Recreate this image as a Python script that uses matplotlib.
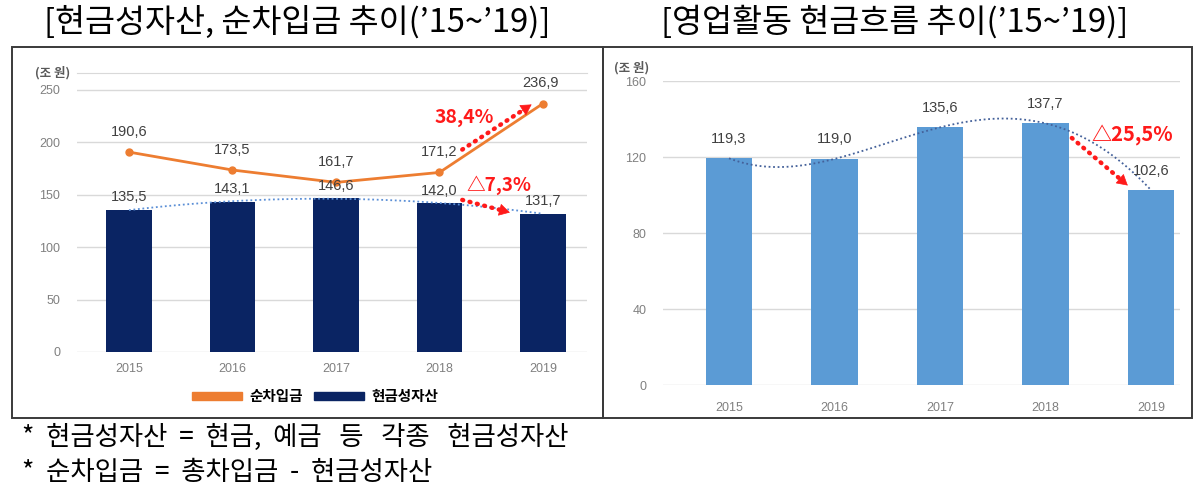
import matplotlib.pyplot as plt
import numpy as np
from matplotlib.patches import Rectangle, Patch

plt.rcParams['font.family'] = ['Noto Sans CJK KR', 'DejaVu Sans']

years = ['2015', '2016', '2017', '2018', '2019']
cash = [135.5, 143.1, 146.6, 142.0, 131.7]        # 현금성자산
net_debt = [190.6, 173.5, 161.7, 171.2, 236.9]    # 순차입금
op_cf = [119.3, 119.0, 135.6, 137.7, 102.6]       # 영업활동 현금흐름

navy = '#0a2463'
orange = '#ed7d31'
blue = '#5b9bd5'
red = '#ff1a1a'
lab = '#404040'
tick = '#808080'
grid = '#d9d9d9'
num_font = ['Liberation Sans', 'DejaVu Sans']

def fmt(v):
    return f'{v:.1f}'.replace('.', ',')

fig = plt.figure(figsize=(12, 4.95), dpi=100)
W, H = 1200, 495

def ax_at(x0, x1, y0, y1):
    return fig.add_axes([x0 / W, 1 - y1 / H, (x1 - x0) / W, (y1 - y0) / H])

# panel boxes
for x0, x1 in [(12, 603), (603, 1192)]:
    fig.add_artist(Rectangle((x0 / W, 1 - 418 / H), (x1 - x0) / W, (418 - 47) / H,
                             transform=fig.transFigure, fill=False,
                             edgecolor='#3a3a3a', lw=1.4))

x = np.arange(len(years))
xs = np.linspace(0, 4, 100)

def style(ax, ymax, step, pad):
    for s in ['left', 'right', 'bottom']:
        ax.spines[s].set_visible(False)
    ax.spines['top'].set_color(grid)
    ax.set_yticks(np.arange(0, ymax + 1, step))
    ax.yaxis.grid(True, color=grid, lw=1)
    ax.set_axisbelow(True)
    ax.tick_params(length=0, colors=tick, labelsize=9)
    ax.tick_params(axis='x', pad=pad)
    ax.tick_params(axis='y', pad=12)
    ax.set_xticks(x, years)
    for t in ax.get_xticklabels() + ax.get_yticklabels():
        t.set_fontfamily(num_font)

def red_arrow(ax, start, end):
    # dotted shaft plus a solid head
    ax.annotate('', xy=end, xytext=start, zorder=5,
                arrowprops=dict(arrowstyle='-', color=red, lw=3.2, ls=(0, (0.2, 1.5)),
                                capstyle='round', shrinkA=0, shrinkB=6))
    s = (start[0] + 0.8 * (end[0] - start[0]), start[1] + 0.8 * (end[1] - start[1]))
    ax.annotate('', xy=end, xytext=s, zorder=6,
                arrowprops=dict(arrowstyle='-|>,head_length=0.7,head_width=0.4',
                                color=red, lw=0.5, shrinkA=0, shrinkB=0))

# ---- left chart
ax1 = ax_at(77, 587, 73, 352)
ax1.bar(x, cash, width=0.44, color=navy, zorder=2)
ax1.plot(x, net_debt, color=orange, lw=2, marker='o', ms=5, zorder=3)
ax1.plot(xs, np.polyval(np.polyfit(x, cash, 2), xs), color='#5b8fd6', lw=1.3,
         ls=(0, (1, 1.5)), zorder=3)
ax1.set_xlim(-0.502, 4.425)
ax1.set_ylim(0, 266)
style(ax1, 250, 50, 8)
for i, v in enumerate(cash):
    ax1.annotate(fmt(v), (i, v), xytext=(0, 9), textcoords='offset points',
                 ha='center', va='center', fontsize=10.5, color=lab, family=num_font)
for i, v in enumerate(net_debt):
    ax1.annotate(fmt(v), (i, v), xytext=(0 if i < 4 else -2, 14.5), textcoords='offset points',
                 ha='center', va='center', fontsize=10.5, color=lab, family=num_font)
ax1.text(-0.74, 266, '(조 원)', ha='center', va='center', fontsize=9, color='#595959',
         fontweight='bold', clip_on=False)

red_arrow(ax1, (3.22, 193), (3.89, 236))
red_arrow(ax1, (3.22, 145), (3.68, 133))
ax1.text(3.24, 224, '38,4%', ha='center', va='center', fontsize=14, color=red,
         fontweight='bold')
ax1.text(3.57, 159, '△7,3%', ha='center', va='center', fontsize=13.5, color=red,
         fontweight='bold')

handles = [Patch(color=orange, label='순차입금'), Patch(color=navy, label='현금성자산')]
fig.legend(handles=handles, loc='center', bbox_to_anchor=(315 / W, 1 - 396 / H), ncol=2,
           frameon=False, handlelength=3.4, handleheight=0.5, columnspacing=0.8,
           handletextpad=0.5, prop={'weight': 'bold', 'size': 10.5})

# ---- right chart
ax2 = ax_at(663, 1180, 81, 385)
ax2.bar(x, op_cf, width=0.44, color=blue, zorder=2)
ax2.plot(xs, np.polyval(np.polyfit(x, op_cf, 4), xs), color='#44619a', lw=1.3,
         ls=(0, (1, 1.5)), zorder=3)
ax2.set_xlim(-0.626, 4.275)
ax2.set_ylim(0, 160)
style(ax2, 160, 40, 12)
ax2.spines['top'].set_visible(False)
for i, v in enumerate(op_cf):
    ax2.annotate(fmt(v), (i, v), xytext=(0, 14), textcoords='offset points',
                 ha='center', va='center', fontsize=10.5, color=lab, family=num_font)
ax2.text(-0.92, 167, '(조 원)', ha='center', va='center', fontsize=9, color='#595959',
         fontweight='bold', clip_on=False)
red_arrow(ax2, (3.25, 130), (3.78, 105))
ax2.text(3.82, 131.5, '△25,5%', ha='center', va='center', fontsize=14.5, color=red,
         fontweight='bold')

# ---- titles and notes
fig.text(297 / W, 1 - 22 / H, "[현금성자산, 순차입금 추이('15~'19)]".replace("'", '\u2019'),
         ha='center', va='center', fontsize=23.5)
fig.text(895 / W, 1 - 22 / H, "[영업활동 현금흐름 추이('15~'19)]".replace("'", '\u2019'),
         ha='center', va='center', fontsize=23.5)
fig.text(22 / W, 1 - 437 / H, '*  현금성자산  =  현금,  예금   등   각종   현금성자산',
         ha='left', va='center', fontsize=19)
fig.text(22 / W, 1 - 473 / H, '*  순차입금  =  총차입금  -  현금성자산',
         ha='left', va='center', fontsize=19)

fig.savefig('out.png', dpi=100)
